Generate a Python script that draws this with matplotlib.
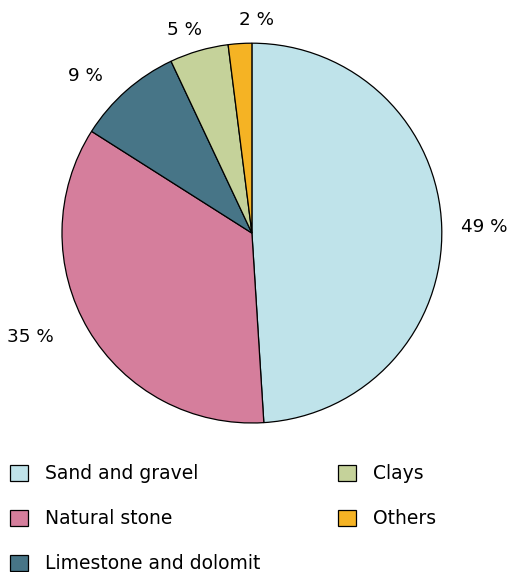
import matplotlib.pyplot as plt

# Data
categories = ['Sand and gravel', 'Natural stone', 'Limestone and dolomit', 'Clays', 'Others']
shares = [49, 35, 9, 5, 2]
colors = ['#BFE3EA', '#D57E9C', '#477587', '#C5D29A', '#F5B324']

plt.rcParams['font.family'] = ['DejaVu Sans']

fig = plt.figure(figsize=(5.12, 5.72), dpi=100)
ax = fig.add_axes([0.121, 0.2605, 0.742, 0.664])

wedges, texts = ax.pie(shares, colors=colors, startangle=90, counterclock=False,
                       labels=[f'{s} %' for s in shares], labeldistance=1.1,
                       wedgeprops=dict(edgecolor='black', linewidth=0.9),
                       textprops=dict(fontsize=13.2))
# nudge labels a little to sit like the original
x, y = texts[1].get_position()
texts[1].set_position((x * 1.1, y * 0.98))
x, y = texts[2].get_position()
texts[2].set_position((x * 1.08, y))
x, y = texts[3].get_position()
texts[3].set_position((x * 0.85, y * 1.01))
x, y = texts[4].get_position()
texts[4].set_position((x, y * 1.02))
texts[4].set_ha('left')
ax.set_xlim(-1, 1)
ax.set_ylim(-1, 1)
ax.set_aspect('equal')

fig.legend(wedges, categories, loc='upper left', bbox_to_anchor=(10 / 512, 0.188),
           ncol=2, frameon=False, fontsize=13.5, handlelength=0.95, handleheight=0.95,
           handletextpad=0.9, labelspacing=1.38, columnspacing=4.15,
           borderpad=0, borderaxespad=0)

fig.savefig('out.png', dpi=100)
